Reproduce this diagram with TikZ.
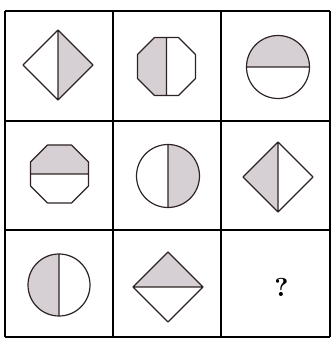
\documentclass[tikz,border=0pt]{standalone}
\usepackage{tikz}

\definecolor{ink}{RGB}{45,35,35}
\definecolor{halfgray}{RGB}{214,207,211}

\begin{document}
\begin{tikzpicture}[
    x=1pt, y=1pt,
    gridline/.style={draw=black, line width=1.6pt},
    outline/.style={draw=ink, line width=1.2pt, line join=round},
    half/.style={fill=halfgray}
]
\useasboundingbox (0,0) rectangle (331,338);

% grid
\foreach \gx in {5,113,221,330}
    \draw[gridline] (\gx,1) -- (\gx,327);
\foreach \gy in {1,108,217,327}
    \draw[gridline] (5,\gy) -- (330,\gy);

% row 1
\begin{scope}[shift={(58,273)}]
    \fill[half] (0,35) -- (35,0) -- (0,-35) -- cycle;
    \draw[outline] (0,35) -- (35,0) -- (0,-35) -- (-35,0) -- cycle (0,35) -- (0,-35);
\end{scope}
\begin{scope}[shift={(166.5,271.5)}]
    \fill[half] (0,29) -- (-12,29) -- (-29,12) -- (-29,-12) -- (-12,-29) -- (0,-29) -- cycle;
    \draw[outline] (29,12) -- (12,29) -- (-12,29) -- (-29,12) -- (-29,-12)
        -- (-12,-29) -- (12,-29) -- (29,-12) -- cycle (0,29) -- (0,-29);
\end{scope}
\begin{scope}[shift={(278,271)}]
    \fill[half] (-31.5,0) arc[start angle=180, end angle=0, radius=31.5] -- cycle;
    \draw[outline] (0,0) circle[radius=31.5] (-31.5,0) -- (31.5,0);
\end{scope}

% row 2
\begin{scope}[shift={(59.5,164)}]
    \fill[half] (-29,0) -- (-29,12) -- (-12,29) -- (12,29) -- (29,12) -- (29,0) -- cycle;
    \draw[outline] (29,12) -- (12,29) -- (-12,29) -- (-29,12) -- (-29,-12)
        -- (-12,-29) -- (12,-29) -- (29,-12) -- cycle (-29,0) -- (29,0);
\end{scope}
\begin{scope}[shift={(168,162)}]
    \fill[half] (0,31.5) arc[start angle=90, end angle=-90, radius=31.5] -- cycle;
    \draw[outline] (0,0) circle[radius=31.5] (0,31.5) -- (0,-31.5);
\end{scope}
\begin{scope}[shift={(278,161)}]
    \fill[half] (0,35) -- (-35,0) -- (0,-35) -- cycle;
    \draw[outline] (0,35) -- (35,0) -- (0,-35) -- (-35,0) -- cycle (0,35) -- (0,-35);
\end{scope}

% row 3
\begin{scope}[shift={(59,53)}]
    \fill[half] (0,31) arc[start angle=90, end angle=270, radius=31] -- cycle;
    \draw[outline] (0,0) circle[radius=31] (0,31) -- (0,-31);
\end{scope}
\begin{scope}[shift={(168,51)}]
    \fill[half] (-35,0) -- (0,35) -- (35,0) -- cycle;
    \draw[outline] (0,35) -- (35,0) -- (0,-35) -- (-35,0) -- cycle (-35,0) -- (35,0);
\end{scope}
\node[font=\bfseries, scale=2.6] (missing) at (281.5,51) {?};

\end{tikzpicture}
\end{document}
